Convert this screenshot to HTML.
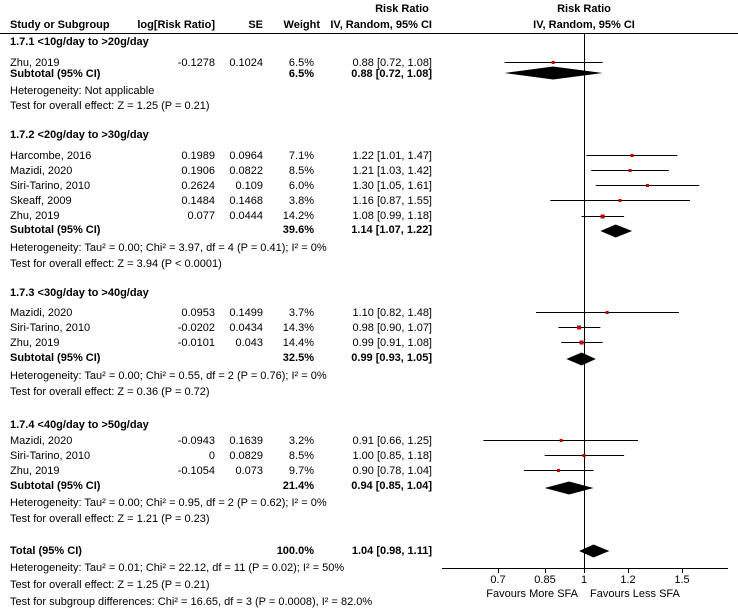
<!DOCTYPE html>
<html><head><meta charset="utf-8"><style>
html,body{margin:0;padding:0;background:#fff}
svg{display:block}
text{font-family:"Liberation Sans",Arial,sans-serif;font-size:11px;fill:#000}
.b{font-weight:bold}
.r{text-anchor:end}
.m{text-anchor:middle}
</style></head><body>
<svg width="738" height="608" viewBox="0 0 738 608" xmlns="http://www.w3.org/2000/svg">
<!-- header -->
<text class="b m" x="402" y="12">Risk Ratio</text>
<text class="b m" x="584" y="12">Risk Ratio</text>
<text class="b" x="10" y="28">Study or Subgroup</text>
<text class="b r" x="215" y="28">log[Risk Ratio]</text>
<text class="b r" x="263" y="28">SE</text>
<text class="b r" x="320" y="28">Weight</text>
<text class="b r" x="432" y="28">IV, Random, 95% CI</text>
<text class="b m" x="584" y="28">IV, Random, 95% CI</text>
<line x1="0" y1="33.5" x2="738" y2="33.5" stroke="#000"/>

<!-- group 1 -->
<text class="b" x="10" y="45">1.7.1 &lt;10g/day to &gt;20g/day</text>
<text x="10" y="66">Zhu, 2019</text><text class="r" x="215" y="66">-0.1278</text><text class="r" x="263" y="66">0.1024</text><text class="r" x="314" y="66">6.5%</text><text class="r" x="432" y="66">0.88 [0.72, 1.08]</text>
<text class="b" x="10" y="77">Subtotal (95% CI)</text><text class="b r" x="314" y="77">6.5%</text><text class="b r" x="432" y="77">0.88 [0.72, 1.08]</text>
<text x="10" y="94">Heterogeneity: Not applicable</text>
<text x="10" y="109">Test for overall effect: Z = 1.25 (P = 0.21)</text>

<!-- group 2 -->
<text class="b" x="10" y="138">1.7.2 &lt;20g/day to &gt;30g/day</text>
<text x="10" y="159">Harcombe, 2016</text><text class="r" x="215" y="159">0.1989</text><text class="r" x="263" y="159">0.0964</text><text class="r" x="314" y="159">7.1%</text><text class="r" x="432" y="159">1.22 [1.01, 1.47]</text>
<text x="10" y="174">Mazidi, 2020</text><text class="r" x="215" y="174">0.1906</text><text class="r" x="263" y="174">0.0822</text><text class="r" x="314" y="174">8.5%</text><text class="r" x="432" y="174">1.21 [1.03, 1.42]</text>
<text x="10" y="189">Siri-Tarino, 2010</text><text class="r" x="215" y="189">0.2624</text><text class="r" x="263" y="189">0.109</text><text class="r" x="314" y="189">6.0%</text><text class="r" x="432" y="189">1.30 [1.05, 1.61]</text>
<text x="10" y="204">Skeaff, 2009</text><text class="r" x="215" y="204">0.1484</text><text class="r" x="263" y="204">0.1468</text><text class="r" x="314" y="204">3.8%</text><text class="r" x="432" y="204">1.16 [0.87, 1.55]</text>
<text x="10" y="219">Zhu, 2019</text><text class="r" x="215" y="219">0.077</text><text class="r" x="263" y="219">0.0444</text><text class="r" x="314" y="219">14.2%</text><text class="r" x="432" y="219">1.08 [0.99, 1.18]</text>
<text class="b" x="10" y="233">Subtotal (95% CI)</text><text class="b r" x="314" y="233">39.6%</text><text class="b r" x="432" y="233">1.14 [1.07, 1.22]</text>
<text x="10" y="251">Heterogeneity: Tau² = 0.00; Chi² = 3.97, df = 4 (P = 0.41); I² = 0%</text>
<text x="10" y="267">Test for overall effect: Z = 3.94 (P &lt; 0.0001)</text>

<!-- group 3 -->
<text class="b" x="10" y="296">1.7.3 &lt;30g/day to &gt;40g/day</text>
<text x="10" y="316">Mazidi, 2020</text><text class="r" x="215" y="316">0.0953</text><text class="r" x="263" y="316">0.1499</text><text class="r" x="314" y="316">3.7%</text><text class="r" x="432" y="316">1.10 [0.82, 1.48]</text>
<text x="10" y="331">Siri-Tarino, 2010</text><text class="r" x="215" y="331">-0.0202</text><text class="r" x="263" y="331">0.0434</text><text class="r" x="314" y="331">14.3%</text><text class="r" x="432" y="331">0.98 [0.90, 1.07]</text>
<text x="10" y="346">Zhu, 2019</text><text class="r" x="215" y="346">-0.0101</text><text class="r" x="263" y="346">0.043</text><text class="r" x="314" y="346">14.4%</text><text class="r" x="432" y="346">0.99 [0.91, 1.08]</text>
<text class="b" x="10" y="361">Subtotal (95% CI)</text><text class="b r" x="314" y="361">32.5%</text><text class="b r" x="432" y="361">0.99 [0.93, 1.05]</text>
<text x="10" y="379">Heterogeneity: Tau² = 0.00; Chi² = 0.55, df = 2 (P = 0.76); I² = 0%</text>
<text x="10" y="395">Test for overall effect: Z = 0.36 (P = 0.72)</text>

<!-- group 4 -->
<text class="b" x="10" y="428">1.7.4 &lt;40g/day to &gt;50g/day</text>
<text x="10" y="444">Mazidi, 2020</text><text class="r" x="215" y="444">-0.0943</text><text class="r" x="263" y="444">0.1639</text><text class="r" x="314" y="444">3.2%</text><text class="r" x="432" y="444">0.91 [0.66, 1.25]</text>
<text x="10" y="459">Siri-Tarino, 2010</text><text class="r" x="215" y="459">0</text><text class="r" x="263" y="459">0.0829</text><text class="r" x="314" y="459">8.5%</text><text class="r" x="432" y="459">1.00 [0.85, 1.18]</text>
<text x="10" y="474">Zhu, 2019</text><text class="r" x="215" y="474">-0.1054</text><text class="r" x="263" y="474">0.073</text><text class="r" x="314" y="474">9.7%</text><text class="r" x="432" y="474">0.90 [0.78, 1.04]</text>
<text class="b" x="10" y="489">Subtotal (95% CI)</text><text class="b r" x="314" y="489">21.4%</text><text class="b r" x="432" y="489">0.94 [0.85, 1.04]</text>
<text x="10" y="506">Heterogeneity: Tau² = 0.00; Chi² = 0.95, df = 2 (P = 0.62); I² = 0%</text>
<text x="10" y="522">Test for overall effect: Z = 1.21 (P = 0.23)</text>

<!-- total -->
<text class="b" x="10" y="554">Total (95% CI)</text><text class="b r" x="314" y="554">100.0%</text><text class="b r" x="432" y="554">1.04 [0.98, 1.11]</text>
<text x="10" y="571">Heterogeneity: Tau² = 0.01; Chi² = 22.12, df = 11 (P = 0.02); I² = 50%</text>
<text x="10" y="588">Test for overall effect: Z = 1.25 (P = 0.21)</text>
<text x="10" y="605">Test for subgroup differences: Chi² = 16.65, df = 3 (P = 0.0008), I² = 82.0%</text>

<!-- plot -->
<line x1="584.5" y1="34" x2="584.5" y2="568" stroke="#000"/>
<line x1="442" y1="568.5" x2="728" y2="568.5" stroke="#000"/>
<g stroke="#000">
<line x1="498.5" y1="568" x2="498.5" y2="573"/>
<line x1="545.5" y1="568" x2="545.5" y2="573"/>
<line x1="584.5" y1="568" x2="584.5" y2="573"/>
<line x1="628.5" y1="568" x2="628.5" y2="573"/>
<line x1="682.5" y1="568" x2="682.5" y2="573"/>
</g>
<text class="m" x="498" y="583">0.7</text>
<text class="m" x="545" y="583">0.85</text>
<text class="m" x="584" y="583">1</text>
<text class="m" x="628" y="583">1.2</text>
<text class="m" x="682" y="583">1.5</text>
<text class="r" x="578" y="597">Favours More SFA</text>
<text x="590" y="597">Favours Less SFA</text>

<g stroke="#000" stroke-width="1">
<line x1="504.5" y1="62.5" x2="602.6" y2="62.5"/>
<line x1="586.4" y1="155.5" x2="677.2" y2="155.5"/>
<line x1="591.2" y1="170.5" x2="668.9" y2="170.5"/>
<line x1="595.8" y1="185.5" x2="699.2" y2="185.5"/>
<line x1="550.3" y1="200.5" x2="690.1" y2="200.5"/>
<line x1="581.6" y1="216.5" x2="624.1" y2="216.5"/>
<line x1="536.0" y1="312.5" x2="678.9" y2="312.5"/>
<line x1="558.5" y1="327.5" x2="600.4" y2="327.5"/>
<line x1="561.2" y1="342.5" x2="602.6" y2="342.5"/>
<line x1="483.4" y1="440.5" x2="638.0" y2="440.5"/>
<line x1="544.7" y1="455.5" x2="624.1" y2="455.5"/>
<line x1="523.9" y1="470.5" x2="593.5" y2="470.5"/>
</g>
<g fill="#c00000">
<rect x="551.6" y="61" width="3" height="3"/>
<rect x="630.6" y="154" width="3" height="3"/>
<rect x="628.6" y="169" width="3" height="3"/>
<rect x="646" y="184" width="3" height="3"/>
<rect x="618.4" y="199" width="3" height="3"/>
<rect x="600.6" y="214.5" width="4" height="4"/>
<rect x="605.6" y="311" width="3" height="3"/>
<rect x="577.1" y="325.5" width="4" height="4"/>
<rect x="579.6" y="340.5" width="4" height="4"/>
<rect x="559.7" y="439" width="3" height="3"/>
<rect x="582.5" y="454" width="3" height="3"/>
<rect x="557" y="469" width="3" height="3"/>
</g>
<g fill="#000">
<polygon points="504.5,73 553.1,66.5 602.6,73 553.1,79.5"/>
<polygon points="600.4,231 615.7,224.5 632.1,231 615.7,237.5"/>
<polygon points="566.4,359 581.6,352.5 595.8,359 581.6,365.5"/>
<polygon points="544.7,488 569,481.5 593.5,488 569,494.5"/>
<polygon points="579.1,551 593.5,544.5 609.3,551 593.5,557.5"/>
</g>
</svg>
</body></html>
